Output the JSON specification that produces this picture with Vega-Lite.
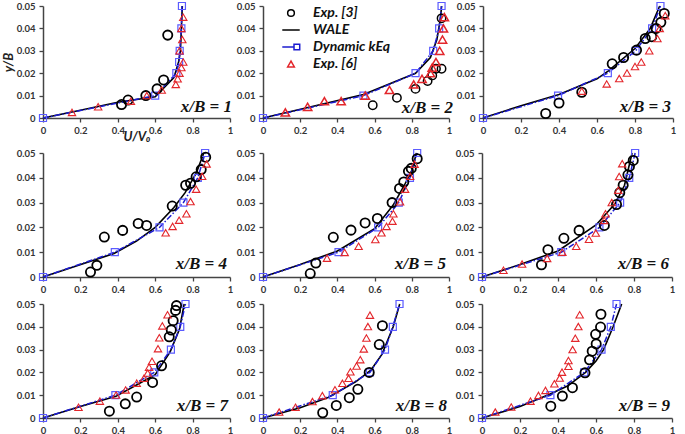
{
  "$schema": "https://vega.github.io/schema/vega-lite/v6.json",
  "background": "white",
  "padding": {"left": 2, "top": 0, "right": 2, "bottom": 0},
  "autosize": {"type": "pad"},
  "config": {
    "view": {"stroke": null},
    "axis": {"grid": false, "labelFont": "Lato", "labelFontWeight": "bold", "labelFontSize": 9.5, "labelColor": "#333", "domainColor": "#444", "domainWidth": 1.5, "tickColor": "#444", "tickWidth": 1.3, "tickSize": 4, "labelFlush": false, "labelOverlap": false, "titleFont": "Lato", "titleFontStyle": "italic", "titleFontWeight": "bold", "titleFontSize": 13, "titleColor": "#222"},
    "axisY": {"labelPadding": 4, "titlePadding": 1},
    "axisX": {"labelPadding": 3, "titlePadding": -4},
    "legend": {"labelFont": "Lato", "labelFontStyle": "italic", "labelFontWeight": "bold", "labelFontSize": 14, "labelColor": "#111"}
  },
  "datasets": {
    "d": [
      {"p":1,"s":"Exp. [3]","u":0.42,"y":0.006},{"p":1,"s":"Exp. [3]","u":0.455,"y":0.008},{"p":1,"s":"Exp. [3]","u":0.55,"y":0.010},{"p":1,"s":"Exp. [3]","u":0.61,"y":0.013},{"p":1,"s":"Exp. [3]","u":0.645,"y":0.017},{"p":1,"s":"Exp. [3]","u":0.667,"y":0.037},
      {"p":1,"s":"Exp. [6]","u":0.155,"y":0.0025},{"p":1,"s":"Exp. [6]","u":0.295,"y":0.005},{"p":1,"s":"Exp. [6]","u":0.47,"y":0.0075},{"p":1,"s":"Exp. [6]","u":0.555,"y":0.01},{"p":1,"s":"Exp. [6]","u":0.635,"y":0.0125},{"p":1,"s":"Exp. [6]","u":0.71,"y":0.015},{"p":1,"s":"Exp. [6]","u":0.72,"y":0.0175},{"p":1,"s":"Exp. [6]","u":0.73,"y":0.02},{"p":1,"s":"Exp. [6]","u":0.74,"y":0.0225},{"p":1,"s":"Exp. [6]","u":0.75,"y":0.025},{"p":1,"s":"Exp. [6]","u":0.73,"y":0.03},{"p":1,"s":"Exp. [6]","u":0.745,"y":0.035},{"p":1,"s":"Exp. [6]","u":0.74,"y":0.04},{"p":1,"s":"Exp. [6]","u":0.75,"y":0.045},
      {"p":1,"s":"Dynamic kEq","u":0,"y":0},{"p":1,"s":"Dynamic kEq","u":0.6,"y":0.01},{"p":1,"s":"Dynamic kEq","u":0.713,"y":0.02},{"p":1,"s":"Dynamic kEq","u":0.728,"y":0.025},{"p":1,"s":"Dynamic kEq","u":0.731,"y":0.03},{"p":1,"s":"Dynamic kEq","u":0.74,"y":0.04},{"p":1,"s":"Dynamic kEq","u":0.743,"y":0.05},
      {"p":1,"s":"WALE","u":0,"y":0},{"p":1,"s":"WALE","u":0.2,"y":0.0035},{"p":1,"s":"WALE","u":0.4,"y":0.007},{"p":1,"s":"WALE","u":0.6,"y":0.0095},{"p":1,"s":"WALE","u":0.7,"y":0.018},{"p":1,"s":"WALE","u":0.725,"y":0.025},{"p":1,"s":"WALE","u":0.735,"y":0.03},{"p":1,"s":"WALE","u":0.74,"y":0.04},{"p":1,"s":"WALE","u":0.745,"y":0.05},

      {"p":2,"s":"Exp. [3]","u":0.59,"y":0.0057},{"p":2,"s":"Exp. [3]","u":0.72,"y":0.009},{"p":2,"s":"Exp. [3]","u":0.82,"y":0.013},{"p":2,"s":"Exp. [3]","u":0.885,"y":0.0165},{"p":2,"s":"Exp. [3]","u":0.91,"y":0.019},{"p":2,"s":"Exp. [3]","u":0.93,"y":0.022},{"p":2,"s":"Exp. [3]","u":0.96,"y":0.022},{"p":2,"s":"Exp. [3]","u":0.96,"y":0.0445},
      {"p":2,"s":"Exp. [6]","u":0.12,"y":0.0025},{"p":2,"s":"Exp. [6]","u":0.24,"y":0.005},{"p":2,"s":"Exp. [6]","u":0.33,"y":0.0075},{"p":2,"s":"Exp. [6]","u":0.42,"y":0.0075},{"p":2,"s":"Exp. [6]","u":0.55,"y":0.01},{"p":2,"s":"Exp. [6]","u":0.68,"y":0.0125},{"p":2,"s":"Exp. [6]","u":0.81,"y":0.015},{"p":2,"s":"Exp. [6]","u":0.855,"y":0.0175},{"p":2,"s":"Exp. [6]","u":0.9,"y":0.02},{"p":2,"s":"Exp. [6]","u":0.91,"y":0.0225},{"p":2,"s":"Exp. [6]","u":0.93,"y":0.025},{"p":2,"s":"Exp. [6]","u":0.95,"y":0.03},{"p":2,"s":"Exp. [6]","u":0.965,"y":0.035},{"p":2,"s":"Exp. [6]","u":0.97,"y":0.04},{"p":2,"s":"Exp. [6]","u":0.975,"y":0.045},
      {"p":2,"s":"Dynamic kEq","u":0,"y":0},{"p":2,"s":"Dynamic kEq","u":0.54,"y":0.01},{"p":2,"s":"Dynamic kEq","u":0.82,"y":0.02},{"p":2,"s":"Dynamic kEq","u":0.915,"y":0.03},{"p":2,"s":"Dynamic kEq","u":0.947,"y":0.04},{"p":2,"s":"Dynamic kEq","u":0.96,"y":0.05},
      {"p":2,"s":"WALE","u":0,"y":0},{"p":2,"s":"WALE","u":0.54,"y":0.0105},{"p":2,"s":"WALE","u":0.82,"y":0.02},{"p":2,"s":"WALE","u":0.9,"y":0.027},{"p":2,"s":"WALE","u":0.935,"y":0.035},{"p":2,"s":"WALE","u":0.955,"y":0.045},{"p":2,"s":"WALE","u":0.96,"y":0.05},

      {"p":3,"s":"Exp. [3]","u":0.33,"y":0.002},{"p":3,"s":"Exp. [3]","u":0.4,"y":0.0067},{"p":3,"s":"Exp. [3]","u":0.52,"y":0.0115},{"p":3,"s":"Exp. [3]","u":0.68,"y":0.0242},{"p":3,"s":"Exp. [3]","u":0.74,"y":0.027},{"p":3,"s":"Exp. [3]","u":0.808,"y":0.0303},{"p":3,"s":"Exp. [3]","u":0.854,"y":0.0355},{"p":3,"s":"Exp. [3]","u":0.888,"y":0.0363},{"p":3,"s":"Exp. [3]","u":0.911,"y":0.04},{"p":3,"s":"Exp. [3]","u":0.936,"y":0.0427},{"p":3,"s":"Exp. [3]","u":0.954,"y":0.0467},
      {"p":3,"s":"Exp. [6]","u":0.52,"y":0.012},{"p":3,"s":"Exp. [6]","u":0.651,"y":0.0152},{"p":3,"s":"Exp. [6]","u":0.717,"y":0.0176},{"p":3,"s":"Exp. [6]","u":0.758,"y":0.0201},{"p":3,"s":"Exp. [6]","u":0.8,"y":0.023},{"p":3,"s":"Exp. [6]","u":0.833,"y":0.025},{"p":3,"s":"Exp. [6]","u":0.875,"y":0.03},{"p":3,"s":"Exp. [6]","u":0.918,"y":0.0355},{"p":3,"s":"Exp. [6]","u":0.93,"y":0.04},{"p":3,"s":"Exp. [6]","u":0.959,"y":0.0457},
      {"p":3,"s":"Dynamic kEq","u":0,"y":0},{"p":3,"s":"Dynamic kEq","u":0.395,"y":0.01},{"p":3,"s":"Dynamic kEq","u":0.657,"y":0.02},{"p":3,"s":"Dynamic kEq","u":0.803,"y":0.03},{"p":3,"s":"Dynamic kEq","u":0.89,"y":0.04},{"p":3,"s":"Dynamic kEq","u":0.934,"y":0.05},
      {"p":3,"s":"WALE","u":0,"y":0},{"p":3,"s":"WALE","u":0.2,"y":0.0055},{"p":3,"s":"WALE","u":0.4,"y":0.0105},{"p":3,"s":"WALE","u":0.6,"y":0.0175},{"p":3,"s":"WALE","u":0.66,"y":0.021},{"p":3,"s":"WALE","u":0.8,"y":0.031},{"p":3,"s":"WALE","u":0.88,"y":0.04},{"p":3,"s":"WALE","u":0.93,"y":0.05},

      {"p":4,"s":"Exp. [3]","u":0.254,"y":0.002},{"p":4,"s":"Exp. [3]","u":0.288,"y":0.0047},{"p":4,"s":"Exp. [3]","u":0.328,"y":0.0161},{"p":4,"s":"Exp. [3]","u":0.426,"y":0.0188},{"p":4,"s":"Exp. [3]","u":0.509,"y":0.0216},{"p":4,"s":"Exp. [3]","u":0.554,"y":0.0208},{"p":4,"s":"Exp. [3]","u":0.691,"y":0.0286},{"p":4,"s":"Exp. [3]","u":0.763,"y":0.037},{"p":4,"s":"Exp. [3]","u":0.789,"y":0.0378},{"p":4,"s":"Exp. [3]","u":0.819,"y":0.0404},{"p":4,"s":"Exp. [3]","u":0.846,"y":0.0433},{"p":4,"s":"Exp. [3]","u":0.87,"y":0.0483},
      {"p":4,"s":"Exp. [6]","u":0.656,"y":0.0178},{"p":4,"s":"Exp. [6]","u":0.693,"y":0.0204},{"p":4,"s":"Exp. [6]","u":0.728,"y":0.0229},{"p":4,"s":"Exp. [6]","u":0.767,"y":0.0255},{"p":4,"s":"Exp. [6]","u":0.789,"y":0.0304},{"p":4,"s":"Exp. [6]","u":0.819,"y":0.0354},{"p":4,"s":"Exp. [6]","u":0.851,"y":0.0406},{"p":4,"s":"Exp. [6]","u":0.875,"y":0.0456},
      {"p":4,"s":"Dynamic kEq","u":0,"y":0},{"p":4,"s":"Dynamic kEq","u":0.384,"y":0.01},{"p":4,"s":"Dynamic kEq","u":0.623,"y":0.02},{"p":4,"s":"Dynamic kEq","u":0.751,"y":0.03},{"p":4,"s":"Dynamic kEq","u":0.828,"y":0.04},{"p":4,"s":"Dynamic kEq","u":0.867,"y":0.05},
      {"p":4,"s":"WALE","u":0,"y":0},{"p":4,"s":"WALE","u":0.38,"y":0.0095},{"p":4,"s":"WALE","u":0.5,"y":0.0145},{"p":4,"s":"WALE","u":0.6,"y":0.02},{"p":4,"s":"WALE","u":0.7,"y":0.028},{"p":4,"s":"WALE","u":0.76,"y":0.034},{"p":4,"s":"WALE","u":0.82,"y":0.042},{"p":4,"s":"WALE","u":0.86,"y":0.05},

      {"p":5,"s":"Exp. [3]","u":0.254,"y":0.0014},{"p":5,"s":"Exp. [3]","u":0.284,"y":0.0056},{"p":5,"s":"Exp. [3]","u":0.378,"y":0.016},{"p":5,"s":"Exp. [3]","u":0.473,"y":0.0189},{"p":5,"s":"Exp. [3]","u":0.549,"y":0.0218},{"p":5,"s":"Exp. [3]","u":0.615,"y":0.0236},{"p":5,"s":"Exp. [3]","u":0.694,"y":0.03},{"p":5,"s":"Exp. [3]","u":0.734,"y":0.0357},{"p":5,"s":"Exp. [3]","u":0.757,"y":0.0383},{"p":5,"s":"Exp. [3]","u":0.782,"y":0.0426},{"p":5,"s":"Exp. [3]","u":0.797,"y":0.0438},{"p":5,"s":"Exp. [3]","u":0.829,"y":0.0477},
      {"p":5,"s":"Exp. [6]","u":0.344,"y":0.0076},{"p":5,"s":"Exp. [6]","u":0.439,"y":0.0099},{"p":5,"s":"Exp. [6]","u":0.514,"y":0.0124},{"p":5,"s":"Exp. [6]","u":0.604,"y":0.0151},{"p":5,"s":"Exp. [6]","u":0.637,"y":0.0178},{"p":5,"s":"Exp. [6]","u":0.664,"y":0.0204},{"p":5,"s":"Exp. [6]","u":0.696,"y":0.0225},{"p":5,"s":"Exp. [6]","u":0.701,"y":0.0255},{"p":5,"s":"Exp. [6]","u":0.737,"y":0.0303},{"p":5,"s":"Exp. [6]","u":0.764,"y":0.0354},{"p":5,"s":"Exp. [6]","u":0.791,"y":0.0406},{"p":5,"s":"Exp. [6]","u":0.815,"y":0.0455},
      {"p":5,"s":"Dynamic kEq","u":0,"y":0},{"p":5,"s":"Dynamic kEq","u":0.406,"y":0.01},{"p":5,"s":"Dynamic kEq","u":0.619,"y":0.02},{"p":5,"s":"Dynamic kEq","u":0.73,"y":0.03},{"p":5,"s":"Dynamic kEq","u":0.79,"y":0.04},{"p":5,"s":"Dynamic kEq","u":0.829,"y":0.05},
      {"p":5,"s":"WALE","u":0,"y":0},{"p":5,"s":"WALE","u":0.2,"y":0.005},{"p":5,"s":"WALE","u":0.4,"y":0.0105},{"p":5,"s":"WALE","u":0.6,"y":0.0195},{"p":5,"s":"WALE","u":0.7,"y":0.029},{"p":5,"s":"WALE","u":0.76,"y":0.037},{"p":5,"s":"WALE","u":0.8,"y":0.043},{"p":5,"s":"WALE","u":0.825,"y":0.05},

      {"p":6,"s":"Exp. [3]","u":0.313,"y":0.0049},{"p":6,"s":"Exp. [3]","u":0.347,"y":0.011},{"p":6,"s":"Exp. [3]","u":0.431,"y":0.0156},{"p":6,"s":"Exp. [3]","u":0.511,"y":0.0188},{"p":6,"s":"Exp. [3]","u":0.644,"y":0.0208},{"p":6,"s":"Exp. [3]","u":0.708,"y":0.0292},{"p":6,"s":"Exp. [3]","u":0.725,"y":0.034},{"p":6,"s":"Exp. [3]","u":0.743,"y":0.037},{"p":6,"s":"Exp. [3]","u":0.768,"y":0.0412},{"p":6,"s":"Exp. [3]","u":0.776,"y":0.0446},{"p":6,"s":"Exp. [3]","u":0.796,"y":0.047},
      {"p":6,"s":"Exp. [6]","u":0.113,"y":0.0027},{"p":6,"s":"Exp. [6]","u":0.211,"y":0.0052},{"p":6,"s":"Exp. [6]","u":0.343,"y":0.0075},{"p":6,"s":"Exp. [6]","u":0.423,"y":0.01},{"p":6,"s":"Exp. [6]","u":0.496,"y":0.0124},{"p":6,"s":"Exp. [6]","u":0.563,"y":0.0152},{"p":6,"s":"Exp. [6]","u":0.599,"y":0.0177},{"p":6,"s":"Exp. [6]","u":0.643,"y":0.0228},{"p":6,"s":"Exp. [6]","u":0.65,"y":0.0255},{"p":6,"s":"Exp. [6]","u":0.683,"y":0.03},{"p":6,"s":"Exp. [6]","u":0.717,"y":0.035},{"p":6,"s":"Exp. [6]","u":0.722,"y":0.0405},{"p":6,"s":"Exp. [6]","u":0.738,"y":0.0457},
      {"p":6,"s":"Dynamic kEq","u":0,"y":0},{"p":6,"s":"Dynamic kEq","u":0.417,"y":0.01},{"p":6,"s":"Dynamic kEq","u":0.618,"y":0.02},{"p":6,"s":"Dynamic kEq","u":0.727,"y":0.03},{"p":6,"s":"Dynamic kEq","u":0.775,"y":0.04},{"p":6,"s":"Dynamic kEq","u":0.806,"y":0.05},
      {"p":6,"s":"WALE","u":0,"y":0},{"p":6,"s":"WALE","u":0.2,"y":0.005},{"p":6,"s":"WALE","u":0.4,"y":0.0105},{"p":6,"s":"WALE","u":0.6,"y":0.021},{"p":6,"s":"WALE","u":0.7,"y":0.0295},{"p":6,"s":"WALE","u":0.75,"y":0.037},{"p":6,"s":"WALE","u":0.79,"y":0.05},

      {"p":7,"s":"Exp. [3]","u":0.355,"y":0.003},{"p":7,"s":"Exp. [3]","u":0.44,"y":0.0062},{"p":7,"s":"Exp. [3]","u":0.501,"y":0.0092},{"p":7,"s":"Exp. [3]","u":0.586,"y":0.0156},{"p":7,"s":"Exp. [3]","u":0.634,"y":0.0229},{"p":7,"s":"Exp. [3]","u":0.675,"y":0.0356},{"p":7,"s":"Exp. [3]","u":0.686,"y":0.0386},{"p":7,"s":"Exp. [3]","u":0.696,"y":0.0427},{"p":7,"s":"Exp. [3]","u":0.709,"y":0.0472},{"p":7,"s":"Exp. [3]","u":0.714,"y":0.0493},
      {"p":7,"s":"Exp. [6]","u":0.19,"y":0.0047},{"p":7,"s":"Exp. [6]","u":0.304,"y":0.0074},{"p":7,"s":"Exp. [6]","u":0.391,"y":0.0101},{"p":7,"s":"Exp. [6]","u":0.442,"y":0.0123},{"p":7,"s":"Exp. [6]","u":0.501,"y":0.0153},{"p":7,"s":"Exp. [6]","u":0.54,"y":0.0174},{"p":7,"s":"Exp. [6]","u":0.56,"y":0.0197},{"p":7,"s":"Exp. [6]","u":0.567,"y":0.0223},{"p":7,"s":"Exp. [6]","u":0.583,"y":0.0249},{"p":7,"s":"Exp. [6]","u":0.615,"y":0.0304},{"p":7,"s":"Exp. [6]","u":0.622,"y":0.0352},{"p":7,"s":"Exp. [6]","u":0.638,"y":0.0404},{"p":7,"s":"Exp. [6]","u":0.666,"y":0.0453},
      {"p":7,"s":"Dynamic kEq","u":0,"y":0},{"p":7,"s":"Dynamic kEq","u":0.387,"y":0.01},{"p":7,"s":"Dynamic kEq","u":0.595,"y":0.02},{"p":7,"s":"Dynamic kEq","u":0.684,"y":0.03},{"p":7,"s":"Dynamic kEq","u":0.734,"y":0.04},{"p":7,"s":"Dynamic kEq","u":0.762,"y":0.05},
      {"p":7,"s":"WALE","u":0,"y":0},{"p":7,"s":"WALE","u":0.2,"y":0.005},{"p":7,"s":"WALE","u":0.39,"y":0.0095},{"p":7,"s":"WALE","u":0.5,"y":0.0145},{"p":7,"s":"WALE","u":0.6,"y":0.019},{"p":7,"s":"WALE","u":0.68,"y":0.029},{"p":7,"s":"WALE","u":0.73,"y":0.039},{"p":7,"s":"WALE","u":0.755,"y":0.05},

      {"p":8,"s":"Exp. [3]","u":0.321,"y":0.0023},{"p":8,"s":"Exp. [3]","u":0.394,"y":0.0055},{"p":8,"s":"Exp. [3]","u":0.464,"y":0.0089},{"p":8,"s":"Exp. [3]","u":0.51,"y":0.0126},{"p":8,"s":"Exp. [3]","u":0.571,"y":0.02},{"p":8,"s":"Exp. [3]","u":0.625,"y":0.0322},{"p":8,"s":"Exp. [3]","u":0.642,"y":0.0405},
      {"p":8,"s":"Exp. [6]","u":0.087,"y":0.0026},{"p":8,"s":"Exp. [6]","u":0.175,"y":0.0047},{"p":8,"s":"Exp. [6]","u":0.266,"y":0.0072},{"p":8,"s":"Exp. [6]","u":0.319,"y":0.0098},{"p":8,"s":"Exp. [6]","u":0.387,"y":0.0124},{"p":8,"s":"Exp. [6]","u":0.427,"y":0.0152},{"p":8,"s":"Exp. [6]","u":0.46,"y":0.0174},{"p":8,"s":"Exp. [6]","u":0.47,"y":0.0203},{"p":8,"s":"Exp. [6]","u":0.503,"y":0.0228},{"p":8,"s":"Exp. [6]","u":0.523,"y":0.0256},{"p":8,"s":"Exp. [6]","u":0.542,"y":0.0303},{"p":8,"s":"Exp. [6]","u":0.556,"y":0.0351},{"p":8,"s":"Exp. [6]","u":0.564,"y":0.0401},{"p":8,"s":"Exp. [6]","u":0.575,"y":0.0451},
      {"p":8,"s":"Dynamic kEq","u":0,"y":0},{"p":8,"s":"Dynamic kEq","u":0.375,"y":0.01},{"p":8,"s":"Dynamic kEq","u":0.575,"y":0.02},{"p":8,"s":"Dynamic kEq","u":0.656,"y":0.03},{"p":8,"s":"Dynamic kEq","u":0.698,"y":0.04},{"p":8,"s":"Dynamic kEq","u":0.734,"y":0.05},
      {"p":8,"s":"WALE","u":0,"y":0},{"p":8,"s":"WALE","u":0.2,"y":0.0045},{"p":8,"s":"WALE","u":0.35,"y":0.009},{"p":8,"s":"WALE","u":0.5,"y":0.016},{"p":8,"s":"WALE","u":0.58,"y":0.021},{"p":8,"s":"WALE","u":0.64,"y":0.028},{"p":8,"s":"WALE","u":0.7,"y":0.04},{"p":8,"s":"WALE","u":0.735,"y":0.05},

      {"p":9,"s":"Exp. [3]","u":0.362,"y":0.0052},{"p":9,"s":"Exp. [3]","u":0.423,"y":0.0096},{"p":9,"s":"Exp. [3]","u":0.476,"y":0.0133},{"p":9,"s":"Exp. [3]","u":0.542,"y":0.0198},{"p":9,"s":"Exp. [3]","u":0.566,"y":0.0255},{"p":9,"s":"Exp. [3]","u":0.58,"y":0.0293},{"p":9,"s":"Exp. [3]","u":0.601,"y":0.0325},{"p":9,"s":"Exp. [3]","u":0.598,"y":0.0367},{"p":9,"s":"Exp. [3]","u":0.624,"y":0.0399},{"p":9,"s":"Exp. [3]","u":0.626,"y":0.0455},
      {"p":9,"s":"Exp. [6]","u":0.07,"y":0.0026},{"p":9,"s":"Exp. [6]","u":0.154,"y":0.0048},{"p":9,"s":"Exp. [6]","u":0.255,"y":0.0074},{"p":9,"s":"Exp. [6]","u":0.297,"y":0.0099},{"p":9,"s":"Exp. [6]","u":0.334,"y":0.0121},{"p":9,"s":"Exp. [6]","u":0.381,"y":0.015},{"p":9,"s":"Exp. [6]","u":0.409,"y":0.0175},{"p":9,"s":"Exp. [6]","u":0.421,"y":0.0201},{"p":9,"s":"Exp. [6]","u":0.455,"y":0.0227},{"p":9,"s":"Exp. [6]","u":0.455,"y":0.0252},{"p":9,"s":"Exp. [6]","u":0.477,"y":0.03},{"p":9,"s":"Exp. [6]","u":0.491,"y":0.035},{"p":9,"s":"Exp. [6]","u":0.507,"y":0.0401},{"p":9,"s":"Exp. [6]","u":0.514,"y":0.0453},
      {"p":9,"s":"Dynamic kEq","u":0,"y":0},{"p":9,"s":"Dynamic kEq","u":0.36,"y":0.01},{"p":9,"s":"Dynamic kEq","u":0.538,"y":0.02},{"p":9,"s":"Dynamic kEq","u":0.629,"y":0.03},{"p":9,"s":"Dynamic kEq","u":0.678,"y":0.04},{"p":9,"s":"Dynamic kEq","u":0.708,"y":0.05},
      {"p":9,"s":"WALE","u":0,"y":0},{"p":9,"s":"WALE","u":0.2,"y":0.005},{"p":9,"s":"WALE","u":0.35,"y":0.0102},{"p":9,"s":"WALE","u":0.45,"y":0.014},{"p":9,"s":"WALE","u":0.545,"y":0.02},{"p":9,"s":"WALE","u":0.6,"y":0.025},{"p":9,"s":"WALE","u":0.64,"y":0.03},{"p":9,"s":"WALE","u":0.69,"y":0.04},{"p":9,"s":"WALE","u":0.735,"y":0.05}
    ]
  },
  "data": {"name": "d"},
  "spacing": 3,
  "vconcat": [
    {"spacing": 3, "hconcat": [
      {"width": 187, "height": 112, "transform": [{"filter": "datum.p == 1"}],
       "encoding": {"x": {"field": "u", "type": "quantitative", "scale": {"domain": [0, 1]}, "axis": {"values": [0,0.2,0.4,0.6,0.8,1], "format": "~g", "title": "U/V₀"}},
                    "y": {"field": "y", "type": "quantitative", "scale": {"domain": [0, 0.05]}, "axis": {"values": [0,0.01,0.02,0.03,0.04,0.05], "format": "~g", "title": "y/B"}}},
       "layer": [
        {"transform": [{"filter": "datum.s == 'WALE'"}], "mark": {"type": "line", "color": "black", "strokeWidth": 1.6}, "encoding": {"order": {"field": "y", "type": "quantitative"}}},
        {"transform": [{"filter": "datum.s == 'Dynamic kEq'"}], "mark": {"type": "line", "color": "#1c1cd0", "strokeWidth": 1.5, "strokeDash": [6,2,1.5,2]}, "encoding": {"order": {"field": "y", "type": "quantitative"}}},
        {"transform": [{"filter": "datum.s == 'Dynamic kEq'"}], "mark": {"type": "point", "shape": "square", "filled": false, "color": "#5b5bff", "size": 49, "strokeWidth": 1.2, "opacity": 1}},
        {"transform": [{"filter": "datum.s == 'Exp. [3]'"}], "mark": {"type": "point", "shape": "circle", "filled": false, "color": "black", "size": 85, "strokeWidth": 1.8, "opacity": 1}},
        {"transform": [{"filter": "datum.s == 'Exp. [6]'"}], "mark": {"type": "point", "shape": "triangle-up", "filled": false, "color": "#e3262b", "size": 55, "strokeWidth": 1.1, "opacity": 1}},
        {"transform": [{"aggregate": [{"op": "max", "field": "u", "as": "u"}, {"op": "min", "field": "y", "as": "y"}]}], "mark": {"type": "text", "font": "'Liberation Serif', 'Times New Roman', 'DejaVu Serif', serif", "fontStyle": "italic", "fontWeight": "bold", "fontSize": 17, "align": "right", "baseline": "alphabetic", "color": "#111", "dx": 2, "dy": -6}, "encoding": {"x": {"datum": 1, "type": "quantitative"}, "y": {"datum": 0, "type": "quantitative"}, "text": {"value": "x/B = 1"}}}
       ]},
      {"width": 186, "height": 112, "transform": [{"filter": "datum.p == 2"}],
       "encoding": {"x": {"field": "u", "type": "quantitative", "scale": {"domain": [0, 1]}, "axis": {"values": [0,0.2,0.4,0.6,0.8,1], "format": "~g", "title": null}},
                    "y": {"field": "y", "type": "quantitative", "scale": {"domain": [0, 0.05]}, "axis": {"values": [0,0.01,0.02,0.03,0.04,0.05], "format": "~g", "title": null}}},
       "layer": [
        {"transform": [{"filter": "datum.s == 'WALE'"}], "mark": {"type": "line", "strokeWidth": 1.6},
         "encoding": {"order": {"field": "y", "type": "quantitative"},
                      "color": {"field": "s", "type": "nominal", "scale": {"domain": ["Exp. [3]", "WALE", "Dynamic kEq", "Exp. [6]"], "range": ["black", "black", "#1c1cd0", "#e3262b"]}, "legend": {"title": null, "orient": "none", "legendX": 241, "legendY": 0, "symbolSize": 45, "labelOffset": 15, "rowPadding": 3, "padding": 0, "symbolStrokeWidth": 1.5, "symbolFillColor": "transparent"}}}},
        {"transform": [{"filter": "datum.s == 'Dynamic kEq'"}], "mark": {"type": "line", "strokeWidth": 1.5, "strokeDash": [6,2,1.5,2]},
         "encoding": {"order": {"field": "y", "type": "quantitative"},
                      "color": {"field": "s", "type": "nominal", "scale": {"domain": ["Exp. [3]", "WALE", "Dynamic kEq", "Exp. [6]"], "range": ["black", "black", "#1c1cd0", "#e3262b"]}, "legend": {"title": null, "orient": "none", "legendX": 241, "legendY": 0, "symbolSize": 45, "labelOffset": 15, "rowPadding": 3, "padding": 0, "symbolStrokeWidth": 1.5, "symbolFillColor": "transparent"}}}},
        {"transform": [{"filter": "datum.s == 'Dynamic kEq'"}], "mark": {"type": "point", "shape": "square", "filled": false, "color": "#5b5bff", "size": 49, "strokeWidth": 1.2, "opacity": 1}},
        {"transform": [{"filter": "datum.s == 'Exp. [3]' || datum.s == 'Exp. [6]'"}], "mark": {"type": "point", "filled": false, "size": 70, "strokeWidth": 1.5, "opacity": 1},
         "encoding": {"color": {"field": "s", "type": "nominal", "scale": {"domain": ["Exp. [3]", "WALE", "Dynamic kEq", "Exp. [6]"], "range": ["black", "black", "#1c1cd0", "#e3262b"]}, "legend": {"title": null, "orient": "none", "legendX": 241, "legendY": 0, "symbolSize": 45, "labelOffset": 15, "rowPadding": 3, "padding": 0, "symbolStrokeWidth": 1.5, "symbolFillColor": "transparent"}},
                      "shape": {"field": "s", "type": "nominal", "scale": {"domain": ["Exp. [3]", "WALE", "Dynamic kEq", "Exp. [6]"], "range": ["circle", "M-2.6,0H2.6", "M-2.6,0H0.9M0.9,-0.85H2.6V0.85H0.9Z", "triangle-up"]}, "legend": {"title": null, "orient": "none", "legendX": 241, "legendY": 0, "symbolSize": 45, "labelOffset": 15, "rowPadding": 3, "padding": 0, "symbolStrokeWidth": 1.5, "symbolFillColor": "transparent"}}}},
        {"transform": [{"aggregate": [{"op": "max", "field": "u", "as": "u"}, {"op": "min", "field": "y", "as": "y"}]}], "mark": {"type": "text", "font": "'Liberation Serif', 'Times New Roman', 'DejaVu Serif', serif", "fontStyle": "italic", "fontWeight": "bold", "fontSize": 17, "align": "right", "baseline": "alphabetic", "color": "#111", "dx": 4, "dy": -5}, "encoding": {"x": {"datum": 1, "type": "quantitative"}, "y": {"datum": 0, "type": "quantitative"}, "text": {"value": "x/B = 2"}}}
       ]},
      {"width": 190, "height": 112, "transform": [{"filter": "datum.p == 3"}],
       "encoding": {"x": {"field": "u", "type": "quantitative", "scale": {"domain": [0, 1]}, "axis": {"values": [0,0.2,0.4,0.6,0.8,1], "format": "~g", "title": null}},
                    "y": {"field": "y", "type": "quantitative", "scale": {"domain": [0, 0.05]}, "axis": {"values": [0,0.01,0.02,0.03,0.04,0.05], "format": "~g", "title": null}}},
       "layer": [
        {"transform": [{"filter": "datum.s == 'WALE'"}], "mark": {"type": "line", "color": "black", "strokeWidth": 1.6}, "encoding": {"order": {"field": "y", "type": "quantitative"}}},
        {"transform": [{"filter": "datum.s == 'Dynamic kEq'"}], "mark": {"type": "line", "color": "#1c1cd0", "strokeWidth": 1.5, "strokeDash": [6,2,1.5,2]}, "encoding": {"order": {"field": "y", "type": "quantitative"}}},
        {"transform": [{"filter": "datum.s == 'Dynamic kEq'"}], "mark": {"type": "point", "shape": "square", "filled": false, "color": "#5b5bff", "size": 49, "strokeWidth": 1.2, "opacity": 1}},
        {"transform": [{"filter": "datum.s == 'Exp. [3]'"}], "mark": {"type": "point", "shape": "circle", "filled": false, "color": "black", "size": 85, "strokeWidth": 1.8, "opacity": 1}},
        {"transform": [{"filter": "datum.s == 'Exp. [6]'"}], "mark": {"type": "point", "shape": "triangle-up", "filled": false, "color": "#e3262b", "size": 55, "strokeWidth": 1.1, "opacity": 1}},
        {"transform": [{"aggregate": [{"op": "max", "field": "u", "as": "u"}, {"op": "min", "field": "y", "as": "y"}]}], "mark": {"type": "text", "font": "'Liberation Serif', 'Times New Roman', 'DejaVu Serif', serif", "fontStyle": "italic", "fontWeight": "bold", "fontSize": 17, "align": "right", "baseline": "alphabetic", "color": "#111", "dx": -2, "dy": -6}, "encoding": {"x": {"datum": 1, "type": "quantitative"}, "y": {"datum": 0, "type": "quantitative"}, "text": {"value": "x/B = 3"}}}
       ]}
    ]},
    {"spacing": 3, "hconcat": [
      {"width": 187, "height": 124, "transform": [{"filter": "datum.p == 4"}],
       "encoding": {"x": {"field": "u", "type": "quantitative", "scale": {"domain": [0, 1]}, "axis": {"values": [0,0.2,0.4,0.6,0.8,1], "format": "~g", "title": null}},
                    "y": {"field": "y", "type": "quantitative", "scale": {"domain": [0, 0.05]}, "axis": {"values": [0,0.01,0.02,0.03,0.04,0.05], "format": "~g", "title": " "}}},
       "layer": [
        {"transform": [{"filter": "datum.s == 'WALE'"}], "mark": {"type": "line", "color": "black", "strokeWidth": 1.6}, "encoding": {"order": {"field": "y", "type": "quantitative"}}},
        {"transform": [{"filter": "datum.s == 'Dynamic kEq'"}], "mark": {"type": "line", "color": "#1c1cd0", "strokeWidth": 1.5, "strokeDash": [6,2,1.5,2]}, "encoding": {"order": {"field": "y", "type": "quantitative"}}},
        {"transform": [{"filter": "datum.s == 'Dynamic kEq'"}], "mark": {"type": "point", "shape": "square", "filled": false, "color": "#5b5bff", "size": 49, "strokeWidth": 1.2, "opacity": 1}},
        {"transform": [{"filter": "datum.s == 'Exp. [3]'"}], "mark": {"type": "point", "shape": "circle", "filled": false, "color": "black", "size": 85, "strokeWidth": 1.8, "opacity": 1}},
        {"transform": [{"filter": "datum.s == 'Exp. [6]'"}], "mark": {"type": "point", "shape": "triangle-up", "filled": false, "color": "#e3262b", "size": 55, "strokeWidth": 1.1, "opacity": 1}},
        {"transform": [{"aggregate": [{"op": "max", "field": "u", "as": "u"}, {"op": "min", "field": "y", "as": "y"}]}], "mark": {"type": "text", "font": "'Liberation Serif', 'Times New Roman', 'DejaVu Serif', serif", "fontStyle": "italic", "fontWeight": "bold", "fontSize": 17, "align": "right", "baseline": "alphabetic", "color": "#111", "dx": -3, "dy": -8}, "encoding": {"x": {"datum": 1, "type": "quantitative"}, "y": {"datum": 0, "type": "quantitative"}, "text": {"value": "x/B = 4"}}}
       ]},
      {"width": 186, "height": 124, "transform": [{"filter": "datum.p == 5"}],
       "encoding": {"x": {"field": "u", "type": "quantitative", "scale": {"domain": [0, 1]}, "axis": {"values": [0,0.2,0.4,0.6,0.8,1], "format": "~g", "title": null}},
                    "y": {"field": "y", "type": "quantitative", "scale": {"domain": [0, 0.05]}, "axis": {"values": [0,0.01,0.02,0.03,0.04,0.05], "format": "~g", "title": null}}},
       "layer": [
        {"transform": [{"filter": "datum.s == 'WALE'"}], "mark": {"type": "line", "color": "black", "strokeWidth": 1.6}, "encoding": {"order": {"field": "y", "type": "quantitative"}}},
        {"transform": [{"filter": "datum.s == 'Dynamic kEq'"}], "mark": {"type": "line", "color": "#1c1cd0", "strokeWidth": 1.5, "strokeDash": [6,2,1.5,2]}, "encoding": {"order": {"field": "y", "type": "quantitative"}}},
        {"transform": [{"filter": "datum.s == 'Dynamic kEq'"}], "mark": {"type": "point", "shape": "square", "filled": false, "color": "#5b5bff", "size": 49, "strokeWidth": 1.2, "opacity": 1}},
        {"transform": [{"filter": "datum.s == 'Exp. [3]'"}], "mark": {"type": "point", "shape": "circle", "filled": false, "color": "black", "size": 85, "strokeWidth": 1.8, "opacity": 1}},
        {"transform": [{"filter": "datum.s == 'Exp. [6]'"}], "mark": {"type": "point", "shape": "triangle-up", "filled": false, "color": "#e3262b", "size": 55, "strokeWidth": 1.1, "opacity": 1}},
        {"transform": [{"aggregate": [{"op": "max", "field": "u", "as": "u"}, {"op": "min", "field": "y", "as": "y"}]}], "mark": {"type": "text", "font": "'Liberation Serif', 'Times New Roman', 'DejaVu Serif', serif", "fontStyle": "italic", "fontWeight": "bold", "fontSize": 17, "align": "right", "baseline": "alphabetic", "color": "#111", "dx": -3, "dy": -8}, "encoding": {"x": {"datum": 1, "type": "quantitative"}, "y": {"datum": 0, "type": "quantitative"}, "text": {"value": "x/B = 5"}}}
       ]},
      {"width": 190, "height": 124, "transform": [{"filter": "datum.p == 6"}],
       "encoding": {"x": {"field": "u", "type": "quantitative", "scale": {"domain": [0, 1]}, "axis": {"values": [0,0.2,0.4,0.6,0.8,1], "format": "~g", "title": null}},
                    "y": {"field": "y", "type": "quantitative", "scale": {"domain": [0, 0.05]}, "axis": {"values": [0,0.01,0.02,0.03,0.04,0.05], "format": "~g", "title": null}}},
       "layer": [
        {"transform": [{"filter": "datum.s == 'WALE'"}], "mark": {"type": "line", "color": "black", "strokeWidth": 1.6}, "encoding": {"order": {"field": "y", "type": "quantitative"}}},
        {"transform": [{"filter": "datum.s == 'Dynamic kEq'"}], "mark": {"type": "line", "color": "#1c1cd0", "strokeWidth": 1.5, "strokeDash": [6,2,1.5,2]}, "encoding": {"order": {"field": "y", "type": "quantitative"}}},
        {"transform": [{"filter": "datum.s == 'Dynamic kEq'"}], "mark": {"type": "point", "shape": "square", "filled": false, "color": "#5b5bff", "size": 49, "strokeWidth": 1.2, "opacity": 1}},
        {"transform": [{"filter": "datum.s == 'Exp. [3]'"}], "mark": {"type": "point", "shape": "circle", "filled": false, "color": "black", "size": 85, "strokeWidth": 1.8, "opacity": 1}},
        {"transform": [{"filter": "datum.s == 'Exp. [6]'"}], "mark": {"type": "point", "shape": "triangle-up", "filled": false, "color": "#e3262b", "size": 55, "strokeWidth": 1.1, "opacity": 1}},
        {"transform": [{"aggregate": [{"op": "max", "field": "u", "as": "u"}, {"op": "min", "field": "y", "as": "y"}]}], "mark": {"type": "text", "font": "'Liberation Serif', 'Times New Roman', 'DejaVu Serif', serif", "fontStyle": "italic", "fontWeight": "bold", "fontSize": 17, "align": "right", "baseline": "alphabetic", "color": "#111", "dx": -3, "dy": -8}, "encoding": {"x": {"datum": 1, "type": "quantitative"}, "y": {"datum": 0, "type": "quantitative"}, "text": {"value": "x/B = 6"}}}
       ]}
    ]},
    {"spacing": 3, "hconcat": [
      {"width": 187, "height": 114, "transform": [{"filter": "datum.p == 7"}],
       "encoding": {"x": {"field": "u", "type": "quantitative", "scale": {"domain": [0, 1]}, "axis": {"values": [0,0.2,0.4,0.6,0.8,1], "format": "~g", "title": null}},
                    "y": {"field": "y", "type": "quantitative", "scale": {"domain": [0, 0.05]}, "axis": {"values": [0,0.01,0.02,0.03,0.04,0.05], "format": "~g", "title": " "}}},
       "layer": [
        {"transform": [{"filter": "datum.s == 'WALE'"}], "mark": {"type": "line", "color": "black", "strokeWidth": 1.6}, "encoding": {"order": {"field": "y", "type": "quantitative"}}},
        {"transform": [{"filter": "datum.s == 'Dynamic kEq'"}], "mark": {"type": "line", "color": "#1c1cd0", "strokeWidth": 1.5, "strokeDash": [6,2,1.5,2]}, "encoding": {"order": {"field": "y", "type": "quantitative"}}},
        {"transform": [{"filter": "datum.s == 'Dynamic kEq'"}], "mark": {"type": "point", "shape": "square", "filled": false, "color": "#5b5bff", "size": 49, "strokeWidth": 1.2, "opacity": 1}},
        {"transform": [{"filter": "datum.s == 'Exp. [3]'"}], "mark": {"type": "point", "shape": "circle", "filled": false, "color": "black", "size": 85, "strokeWidth": 1.8, "opacity": 1}},
        {"transform": [{"filter": "datum.s == 'Exp. [6]'"}], "mark": {"type": "point", "shape": "triangle-up", "filled": false, "color": "#e3262b", "size": 55, "strokeWidth": 1.1, "opacity": 1}},
        {"transform": [{"aggregate": [{"op": "max", "field": "u", "as": "u"}, {"op": "min", "field": "y", "as": "y"}]}], "mark": {"type": "text", "font": "'Liberation Serif', 'Times New Roman', 'DejaVu Serif', serif", "fontStyle": "italic", "fontWeight": "bold", "fontSize": 17, "align": "right", "baseline": "alphabetic", "color": "#111", "dx": -2, "dy": -7}, "encoding": {"x": {"datum": 1, "type": "quantitative"}, "y": {"datum": 0, "type": "quantitative"}, "text": {"value": "x/B = 7"}}}
       ]},
      {"width": 186, "height": 114, "transform": [{"filter": "datum.p == 8"}],
       "encoding": {"x": {"field": "u", "type": "quantitative", "scale": {"domain": [0, 1]}, "axis": {"values": [0,0.2,0.4,0.6,0.8,1], "format": "~g", "title": null}},
                    "y": {"field": "y", "type": "quantitative", "scale": {"domain": [0, 0.05]}, "axis": {"values": [0,0.01,0.02,0.03,0.04,0.05], "format": "~g", "title": null}}},
       "layer": [
        {"transform": [{"filter": "datum.s == 'WALE'"}], "mark": {"type": "line", "color": "black", "strokeWidth": 1.6}, "encoding": {"order": {"field": "y", "type": "quantitative"}}},
        {"transform": [{"filter": "datum.s == 'Dynamic kEq'"}], "mark": {"type": "line", "color": "#1c1cd0", "strokeWidth": 1.5, "strokeDash": [6,2,1.5,2]}, "encoding": {"order": {"field": "y", "type": "quantitative"}}},
        {"transform": [{"filter": "datum.s == 'Dynamic kEq'"}], "mark": {"type": "point", "shape": "square", "filled": false, "color": "#5b5bff", "size": 49, "strokeWidth": 1.2, "opacity": 1}},
        {"transform": [{"filter": "datum.s == 'Exp. [3]'"}], "mark": {"type": "point", "shape": "circle", "filled": false, "color": "black", "size": 85, "strokeWidth": 1.8, "opacity": 1}},
        {"transform": [{"filter": "datum.s == 'Exp. [6]'"}], "mark": {"type": "point", "shape": "triangle-up", "filled": false, "color": "#e3262b", "size": 55, "strokeWidth": 1.1, "opacity": 1}},
        {"transform": [{"aggregate": [{"op": "max", "field": "u", "as": "u"}, {"op": "min", "field": "y", "as": "y"}]}], "mark": {"type": "text", "font": "'Liberation Serif', 'Times New Roman', 'DejaVu Serif', serif", "fontStyle": "italic", "fontWeight": "bold", "fontSize": 17, "align": "right", "baseline": "alphabetic", "color": "#111", "dx": -2, "dy": -7}, "encoding": {"x": {"datum": 1, "type": "quantitative"}, "y": {"datum": 0, "type": "quantitative"}, "text": {"value": "x/B = 8"}}}
       ]},
      {"width": 190, "height": 114, "transform": [{"filter": "datum.p == 9"}],
       "encoding": {"x": {"field": "u", "type": "quantitative", "scale": {"domain": [0, 1]}, "axis": {"values": [0,0.2,0.4,0.6,0.8,1], "format": "~g", "title": null}},
                    "y": {"field": "y", "type": "quantitative", "scale": {"domain": [0, 0.05]}, "axis": {"values": [0,0.01,0.02,0.03,0.04,0.05], "format": "~g", "title": null}}},
       "layer": [
        {"transform": [{"filter": "datum.s == 'WALE'"}], "mark": {"type": "line", "color": "black", "strokeWidth": 1.6}, "encoding": {"order": {"field": "y", "type": "quantitative"}}},
        {"transform": [{"filter": "datum.s == 'Dynamic kEq'"}], "mark": {"type": "line", "color": "#1c1cd0", "strokeWidth": 1.5, "strokeDash": [6,2,1.5,2]}, "encoding": {"order": {"field": "y", "type": "quantitative"}}},
        {"transform": [{"filter": "datum.s == 'Dynamic kEq'"}], "mark": {"type": "point", "shape": "square", "filled": false, "color": "#5b5bff", "size": 49, "strokeWidth": 1.2, "opacity": 1}},
        {"transform": [{"filter": "datum.s == 'Exp. [3]'"}], "mark": {"type": "point", "shape": "circle", "filled": false, "color": "black", "size": 85, "strokeWidth": 1.8, "opacity": 1}},
        {"transform": [{"filter": "datum.s == 'Exp. [6]'"}], "mark": {"type": "point", "shape": "triangle-up", "filled": false, "color": "#e3262b", "size": 55, "strokeWidth": 1.1, "opacity": 1}},
        {"transform": [{"aggregate": [{"op": "max", "field": "u", "as": "u"}, {"op": "min", "field": "y", "as": "y"}]}], "mark": {"type": "text", "font": "'Liberation Serif', 'Times New Roman', 'DejaVu Serif', serif", "fontStyle": "italic", "fontWeight": "bold", "fontSize": 17, "align": "right", "baseline": "alphabetic", "color": "#111", "dx": -2, "dy": -7}, "encoding": {"x": {"datum": 1, "type": "quantitative"}, "y": {"datum": 0, "type": "quantitative"}, "text": {"value": "x/B = 9"}}}
       ]}
    ]}
  ]
}
